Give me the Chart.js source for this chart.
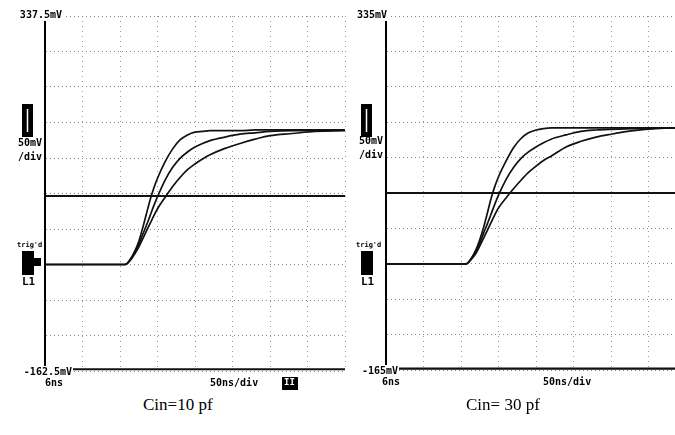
<!DOCTYPE html>
<html>
<head>
<meta charset="utf-8">
<script src="https://cdn.jsdelivr.net/npm/chart.js@4.4.1/dist/chart.umd.min.js"></script>
<style>
  body { margin: 0; background: #fff; overflow: hidden; width: 675px; height: 435px; position: relative; }
  .scope { position: absolute; top: 0; height: 395px; width: 350px; }
  .cap { position: absolute; top: 395px; font: 17px "Liberation Serif", "Times New Roman", serif; color: #000; }
</style>
</head>
<body>
<div class="scope" style="left:0"><canvas id="leftScope"></canvas></div>
<div class="scope" style="left:340px"><canvas id="rightScope"></canvas></div>
<div class="cap" style="left:143px">Cin=10 pf</div>
<div class="cap" style="left:466px">Cin= 30 pf</div>
<script>
// sample times (ns from left edge of screen), 50 ns/div, 8 div
const timeNs = [0, 100, 107, 115, 120, 125, 130, 135, 140, 145, 150, 160, 170, 180, 190, 200, 210, 220, 240, 260, 280, 300, 330, 360, 400];
const edgeNs = [0, 400];

// Cin = 10 pf (mV)
const leftFast = [-12.5, -12.5, -12.5, -3, 7, 20, 38, 58, 78, 95, 109, 132, 150, 163, 170, 174, 175, 176, 176, 176, 177, 177, 177, 177, 177];
const leftMid  = [-12.5, -12.5, -12.5, -4, 5, 16, 29, 42, 56, 70, 83, 106, 124, 137, 146, 153, 158, 162, 167, 171, 173, 175, 176, 176, 177];
const leftSlow = [-12.5, -12.5, -12.5, -5, 3, 12, 23, 34, 45, 56, 66, 82, 97, 110, 121, 129, 136, 142, 151, 158, 164, 169, 172, 175, 176];
const leftLevel = [84, 84];
const leftFloor = [-160, -160];

// Cin = 30 pf (mV)
const rightFast = [-15, -15, -15, -5, 5, 19, 36, 56, 77, 94, 108, 130, 149, 162, 170, 174, 176, 177, 177, 177, 177, 177, 177, 177, 177];
const rightMid  = [-15, -15, -15, -6, 3, 14, 28, 41, 55, 69, 82, 104, 121, 134, 143, 150, 156, 161, 167, 172, 174, 175, 176, 177, 177];
const rightSlow = [-15, -15, -15, -7, 0, 10, 21, 32, 43, 54, 64, 78, 91, 103, 114, 123, 131, 137, 150, 158, 164, 168, 173, 176, 177];
const rightLevel = [85, 85];
const rightFloor = [-163, -163];

// screen limits and labels
const leftRange = [-162.5, 337.5];
const rightRange = [-165, 335];
const leftLabels = ['337.5mV', '-162.5mV'];
const rightLabels = ['335mV', '-165mV'];

function pts(xs, ys) { return xs.map((x, i) => ({ x: x, y: ys[i] })); }

function trace(xs, ys, w) {
  return { data: pts(xs, ys), borderColor: '#111', borderWidth: w, pointRadius: 0, cubicInterpolationMode: 'monotone', fill: false };
}

function textBox(ctx, s, x, y, align) {
  ctx.textAlign = align;
  const w = ctx.measureText(s).width;
  const x0 = align === 'right' ? x - w : x;
  ctx.fillStyle = '#fff';
  ctx.fillRect(x0 - 1, y - 6, w + 2, 12);
  ctx.fillStyle = '#000';
  ctx.fillText(s, x, y);
}

const scopeText = {
  id: 'scopeText',
  afterDraw(chart, args, o) {
    const { ctx, chartArea: a } = chart;
    ctx.save();
    ctx.textBaseline = 'middle';
    ctx.font = 'bold 10px "DejaVu Sans Mono", monospace';
    textBox(ctx, o.top, a.left + o.topDx, a.top - 1, 'right');
    textBox(ctx, o.bottom, a.left + o.botDx, a.bottom + 1, 'right');
    ctx.fillStyle = '#000';
    ctx.textAlign = 'left';
    ctx.fillText('6ns', a.left + o.nsDx, a.bottom + 12);
    ctx.fillText('50ns/div', a.left + o.divDx, a.bottom + 12);
    ctx.textAlign = 'right';
    ctx.fillText('50mV', a.left - 3, o.mvY);
    ctx.fillText('/div', a.left - 3, o.mvY + 14);
    // volts/div marker
    const mx = a.left + o.markDx;
    ctx.fillRect(mx, 104, 11, 33);
    ctx.strokeStyle = '#fff';
    ctx.lineWidth = 1.5;
    ctx.beginPath();
    ctx.moveTo(mx + 5.5, 109); ctx.lineTo(mx + 5.5, 132);
    ctx.stroke();
    // trigger marker
    ctx.font = 'bold 7px "DejaVu Sans Mono", monospace';
    ctx.textAlign = 'left';
    ctx.fillText("trig'd", mx - 5, 245);
    ctx.fillRect(mx, 251, 12, 24);
    ctx.fillRect(mx + 10, 258, o.trigTab, 8);
    ctx.font = 'bold 11px "DejaVu Sans Mono", monospace';
    ctx.fillText('L1', mx, 282);
    if (o.box) {
      ctx.fillRect(a.left + o.box, a.bottom + 6, 16, 13);
      ctx.fillStyle = '#fff';
      ctx.font = 'bold 9px "DejaVu Sans Mono", monospace';
      ctx.fillText('II', a.left + o.box + 2, a.bottom + 12);
    }
    ctx.restore();
  }
};

function scope(id, range, curves, level, floor, pad, labels) {
  const ctx = document.getElementById(id).getContext('2d');
  return new Chart(ctx, {
    type: 'line',
    data: {
      datasets: [
        trace(edgeNs, level, 2),
        trace(edgeNs, floor, 2.2),
        trace(timeNs, curves[0], 1.7),
        trace(timeNs, curves[1], 1.7),
        trace(timeNs, curves[2], 1.7)
      ]
    },
    options: {
      responsive: true,
      maintainAspectRatio: false,
      animation: false,
      layout: { padding: pad },
      plugins: { legend: { display: false }, tooltip: { enabled: false }, scopeText: labels },
      scales: {
        x: {
          type: 'linear', min: 0, max: 400,
          ticks: { display: false, stepSize: 50 },
          grid: { color: '#999', lineWidth: 1, drawTicks: false },
          border: { display: false, dash: [1, 4] }
        },
        y: {
          min: range[0], max: range[1],
          afterBuildTicks: s => {
            const t = [];
            for (let v = range[0]; v <= range[1] + 0.01; v += 50) t.push({ value: v });
            s.ticks = t;
          },
          ticks: { display: false },
          grid: { color: '#888', lineWidth: 1, drawTicks: false },
          border: { display: true, color: '#000', width: 2, dash: [1, 3] }
        }
      }
    },
    plugins: [scopeText]
  });
}

scope('leftScope', leftRange, [leftFast, leftMid, leftSlow], leftLevel, leftFloor,
  { left: 45, top: 16, right: 5, bottom: 24 },
  { top: leftLabels[0], bottom: leftLabels[1], topDx: 17, botDx: 27, nsDx: 0, divDx: 165, mvY: 143, markDx: -23, trigTab: 9, box: 237 });

scope('rightScope', rightRange, [rightFast, rightMid, rightSlow], rightLevel, rightFloor,
  { left: 46, top: 16, right: 4, bottom: 25 },
  { top: rightLabels[0], bottom: rightLabels[1], topDx: 1, botDx: 12, nsDx: -4, divDx: 157, mvY: 141, markDx: -25, trigTab: 0, box: 0 });
</script>
</body>
</html>
